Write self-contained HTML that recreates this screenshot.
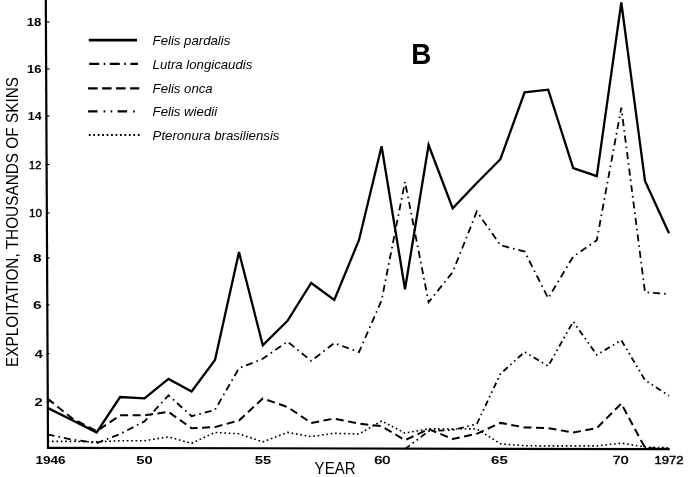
<!DOCTYPE html>
<html><head><meta charset="utf-8"><style>
html,body{margin:0;padding:0;background:#fff;}
body{width:688px;height:477px;overflow:hidden;}
svg{display:block;filter:grayscale(1);}
text{font-family:"Liberation Sans",sans-serif;fill:#000;stroke:none;}
.tk{font-size:11.5px;font-weight:bold;}
.lg{font-size:13.2px;font-style:italic;}
.ax{font-size:15px;}
.big{font-size:27.5px;font-weight:bold;}
</style></head><body>
<svg width="688" height="477" viewBox="0 0 688 477">
<rect width="688" height="477" fill="#fff"/>
<g stroke="#000" fill="none" stroke-linejoin="miter" stroke-linecap="butt">
<line x1="45.8" y1="0" x2="48" y2="448.5" stroke-width="2.2"/>
<line x1="47" y1="447.8" x2="669.7" y2="449.2" stroke-width="2.2"/>
<line x1="46.5" y1="22.0" x2="49.5" y2="22.0" stroke-width="1.2"/>
<line x1="46.5" y1="69" x2="49.5" y2="69" stroke-width="1.2"/>
<line x1="46.5" y1="116" x2="49.5" y2="116" stroke-width="1.2"/>
<line x1="46.5" y1="164.5" x2="49.5" y2="164.5" stroke-width="1.2"/>
<line x1="46.5" y1="213" x2="49.5" y2="213" stroke-width="1.2"/>
<line x1="46.5" y1="257.9" x2="49.5" y2="257.9" stroke-width="1.2"/>
<line x1="46.5" y1="304.9" x2="49.5" y2="304.9" stroke-width="1.2"/>
<line x1="46.5" y1="353.6" x2="49.5" y2="353.6" stroke-width="1.2"/>
<line x1="46.5" y1="401.7" x2="49.5" y2="401.7" stroke-width="1.2"/>
<polyline points="47.6,407.9 71.8,420.0 96.6,432.4 120.1,397.0 144.5,398.4 168.5,378.9 191.6,391.5 215.0,359.9 239.0,252.1 262.8,345.2 287.5,320.8 311.2,283.0 334.3,299.9 359.0,240.0 381.6,146.2 405.0,289.2 428.6,145.0 452.7,208.4 476.8,183.0 500.4,159.2 524.6,92.3 548.2,89.7 573.2,168.0 596.8,176.1 621.3,2.5 645.0,180.9 669.0,233.3" stroke-width="2.3"/>
<polyline points="47.6,434.5 71.8,439.5 96.6,443.1 120.1,434.0 144.5,421.4 168.5,395.3 191.6,416.2 215.0,409.8 239.0,368.2 262.8,358.8 287.5,341.6 311.2,360.9 334.3,343.1 359.0,352.1 381.6,300.3 405.0,181.8 428.6,302.2 452.7,272.1 476.8,211.5 500.4,245.2 524.6,251.6 548.2,298.2 573.2,256.6 596.8,240.2 621.3,107.7 645.0,292.2 669.0,294.1" stroke-width="1.8" stroke-dasharray="7 4 1.6 4"/>
<polyline points="47.6,398.6 71.8,418.1 96.6,431.2 120.1,415.3 144.5,415.3 168.5,411.9 191.6,428.3 215.0,427.1 239.0,420.5 262.8,398.4 287.5,407.0 311.2,422.9 334.3,418.6 359.0,423.6 381.6,426.2 405.0,440.2 428.6,429.1 452.7,439.0 476.8,433.8 500.4,422.9 524.6,427.4 548.2,428.1 573.2,432.6 596.8,428.1 621.3,403.6 645.0,447.8 669.0,449.0" stroke-width="2" stroke-dasharray="8 4.5"/>
<polyline points="405.0,449.0 428.6,431.2 452.7,430.0 476.8,424.1 500.4,373.9 524.6,351.9 548.2,366.1 573.2,321.5 596.8,354.9 621.3,340.2 645.0,380.1 669.0,395.8" stroke-width="1.8" stroke-dasharray="6 3.5 1.6 3.5 1.6 3.5"/>
<polyline points="47.6,441.4 71.8,441.4 96.6,441.9 120.1,440.7 144.5,440.7 168.5,436.9 191.6,443.3 215.0,432.4 239.0,433.8 262.8,441.9 287.5,432.4 311.2,436.6 334.3,433.3 359.0,434.0 381.6,421.0 405.0,433.1 428.6,428.8 452.7,429.1 476.8,428.8 500.4,443.8 524.6,445.7 548.2,445.9 573.2,445.9 596.8,445.9 621.3,443.1 645.0,447.1 669.0,447.8" stroke-width="1.6" stroke-dasharray="1.7 2.7"/>
<line x1="88.8" y1="40.2" x2="137" y2="40.2" stroke-width="2.8"/>
<text x="152.6" y="44.8" class="lg">Felis pardalis</text>
<line x1="89.2" y1="63.9" x2="138" y2="63.9" stroke-width="2.2" stroke-dasharray="10 4.5 1.6 4.5"/>
<text x="152.6" y="68.5" class="lg">Lutra longicaudis</text>
<line x1="88.1" y1="88.4" x2="139.3" y2="88.4" stroke-width="2.2" stroke-dasharray="9.5 4.5"/>
<text x="152.6" y="93.0" class="lg">Felis onca</text>
<line x1="88.1" y1="111.3" x2="139" y2="111.3" stroke-width="2.2" stroke-dasharray="9.5 6 1.6 5.4 1.6 5.4"/>
<text x="152.6" y="115.9" class="lg">Felis wiedii</text>
<line x1="88.8" y1="135.0" x2="140" y2="135.0" stroke-width="1.8" stroke-dasharray="1.8 2.65"/>
<text x="152.6" y="139.6" class="lg">Pteronura brasiliensis</text>
</g>
<text x="26.7" y="26.1" class="tk" textLength="14.7" lengthAdjust="spacingAndGlyphs">18</text>
<text x="27.0" y="73.1" class="tk" textLength="14.6" lengthAdjust="spacingAndGlyphs">16</text>
<text x="27.8" y="120.1" class="tk" textLength="13.8" lengthAdjust="spacingAndGlyphs">14</text>
<text x="29.1" y="168.6" class="tk" style='font-weight:normal;stroke:#000;stroke-width:0.4px' textLength="12.2" lengthAdjust="spacingAndGlyphs">12</text>
<text x="29.1" y="217.1" class="tk" style='font-weight:normal;stroke:#000;stroke-width:0.4px' textLength="13.0" lengthAdjust="spacingAndGlyphs">10</text>
<text x="33.0" y="262.0" class="tk" textLength="8.6" lengthAdjust="spacingAndGlyphs">8</text>
<text x="33.0" y="309.0" class="tk" textLength="8.6" lengthAdjust="spacingAndGlyphs">6</text>
<text x="34.5" y="357.7" class="tk" textLength="8.4" lengthAdjust="spacingAndGlyphs">4</text>
<text x="34.4" y="405.8" class="tk" textLength="8.2" lengthAdjust="spacingAndGlyphs">2</text>
<text x="35.4" y="463.5" class="tk" textLength="30.2" lengthAdjust="spacingAndGlyphs">1946</text>
<text x="136.2" y="463.5" class="tk" textLength="16.5" lengthAdjust="spacingAndGlyphs">50</text>
<text x="254.8" y="463.5" class="tk" textLength="16.5" lengthAdjust="spacingAndGlyphs">55</text>
<text x="374.3" y="463.5" class="tk" style='font-weight:normal;stroke:#000;stroke-width:0.45px' textLength="16.1" lengthAdjust="spacingAndGlyphs">60</text>
<text x="491.1" y="463.5" class="tk" textLength="16.7" lengthAdjust="spacingAndGlyphs">65</text>
<text x="612.8" y="463.5" class="tk" style='font-weight:normal;stroke:#000;stroke-width:0.45px' textLength="15.7" lengthAdjust="spacingAndGlyphs">70</text>
<text x="654.4" y="463.5" class="tk" style='font-weight:normal;stroke:#000;stroke-width:0.45px' textLength="29.1" lengthAdjust="spacingAndGlyphs">1972</text>
<text class="big" x="411.2" y="64" style="font-size:29.5px" textLength="20" lengthAdjust="spacingAndGlyphs">B</text>
<text class="ax" x="314.6" y="474.1" style="font-size:15.6px" textLength="41" lengthAdjust="spacingAndGlyphs">YEAR</text>
<text class="ax" style="font-size:15.6px" textLength="290" lengthAdjust="spacingAndGlyphs" transform="translate(18.1,367.0) rotate(-90)">EXPLOITATION, THOUSANDS OF SKINS</text>
</svg>
</body></html>
